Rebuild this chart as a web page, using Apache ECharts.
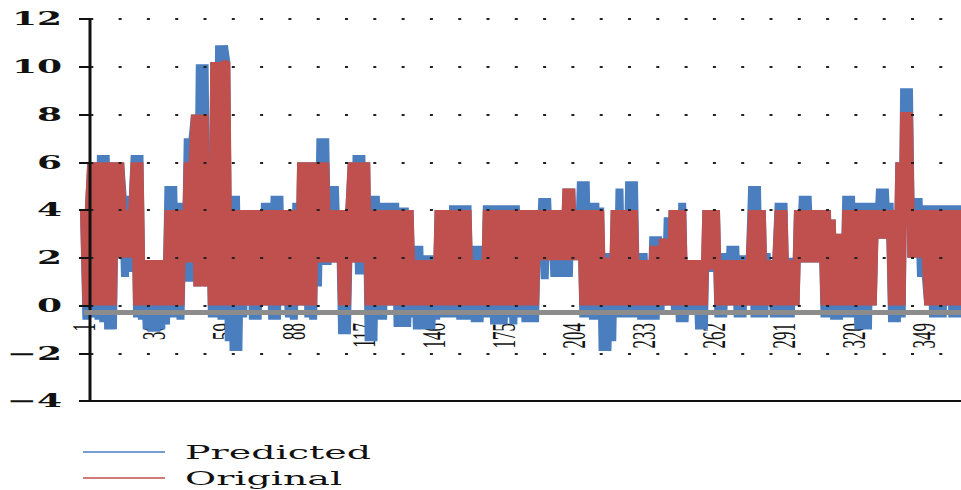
<!DOCTYPE html>
<html lang="en">
<head>
  <meta charset="UTF-8">
  <title>Predicted vs Original</title>
  <style>
    html, body {
      margin: 0;
      padding: 0;
      overflow: hidden;
      background: #fff;
    }

    /* the source figure is stretched about 2x horizontally, text included */
    #chart {
      width: 481px;
      height: 490px;
      transform: scaleX(2);
      transform-origin: 0 0;
    }
  </style>
</head>
<body>
  <div id="chart"></div>

  <script src="https://cdn.jsdelivr.net/npm/echarts@6/dist/echarts.min.js"></script>
  <script>
    // day index 1..365 on the category axis
    const days = Array.from({ length: 365 }, (_, i) => String(i + 1))
    const tickLabels = ['1', '30', '59', '88', '117', '146', '175', '204', '233', '262', '291', '320', '349']
    const yTicks = [-4, -2, 0, 2, 4, 6, 8, 10, 12]

    const original = [
      4, 0, 4, 6, 0, 6, 0, 6, 0, 6,
      0, 6, 0, 6, 2, 6, 4, 2, 4, 2,
      4, 6, 0, 6, 0, 1.9, 0, 1.9, 0, 1.9,
      0, 1.9, 0, 1.9, 0, 4, 0, 4, 0, 4,
      0, 4, 1.8, 6, 1.8, 6, 8, 0.8, 8, 0.8,
      8, 0.8, 5.8, 0, 10.2, 0, 10.2, 0, 10.2, 10.2,
      0, 4, 0, 4, 0, 4, 0, 4, 0, 4,
      0, 4, 0, 4, 0, 4, 0, 4, 0, 4,
      0, 4, 0, 4, 1, 0, 4, 0, 4, 0,
      6, 0, 6, 0, 6, 0, 6, 1.8, 6, 1.8,
      6, 1.8, 4, 1.8, 4, 1.8, 4, 0, 4, 0,
      4, 6, 1.8, 6, 1.8, 6, 1.8, 6, 0, 4,
      0, 4, 0, 4, 0, 4, 0, 4, 0, 4,
      0, 4, 0, 4, 0, 4, 0, 1.9, 0, 1.9,
      0, 1.9, 0, 1.9, 0, 1.9, 0, 4, 0, 4,
      0, 4, 0, 4, 0, 4, 0, 4, 0, 4,
      0, 1.9, 0, 1.9, 0, 1.9, 0, 4, 0, 4,
      0, 4, 0, 4, 0, 4, 0, 4, 0, 4,
      2.5, 0, 4, 0, 4, 0, 4, 0, 4, 1.9,
      4, 1.9, 4, 1.9, 4, 1.9, 4, 1.9, 4, 1.9,
      4.9, 1.9, 4.9, 1.9, 4, 1.9, 4, 0, 4, 0,
      4, 0, 4, 0, 4, 0, 2, 0, 2, 0,
      4, 0, 4, 0, 4, 0, 4, 0, 4, 0,
      1.9, 0, 1.9, 0, 1.9, 0, 2.5, 0, 2.5, 0,
      2.8, 0, 2.8, 0, 4, 0, 4, 0, 4, 0,
      1.9, 0, 1.9, 0, 1.9, 0, 1.9, 0, 4, 1.5,
      4, 1.5, 4, 0, 1.9, 0, 1.9, 0, 1.9, 0,
      1.9, 0, 1.9, 0, 1.9, 0, 1.9, 4, 0, 4,
      0, 4, 0, 1.9, 0, 1.9, 0, 1.9, 4, 0,
      4, 0, 1.9, 0, 1.9, 0, 4, 1.8, 4, 1.8,
      4, 1.8, 4, 1.8, 4, 1.8, 4, 0, 4, 0,
      3.6, 0, 3, 0, 3, 0, 4, 0, 4, 0,
      4, 0, 4, 0, 4, 0, 4, 0, 4, 2.8,
      4, 2.8, 4, 2.8, 4, 0, 4, 0, 6, 0,
      8.1, 4, 8.1, 2, 4, 2, 4, 2, 4, 2,
      0, 4, 0, 4, 0, 4, 0, 4, 0, 4,
      0, 4, 0, 4, 0
    ]

    const predicted = [
      4, -0.6, 4, 6, -0.5, 6, -0.6, 6.3, -0.7, 6.3,
      -1, 6, -1, 6, 2, 6, 4.6, 1.2, 4.6, 1.4,
      4, 6.3, -0.5, 6.3, -0.6, 1.9, -1, 1.9, -1.1, 1.9,
      -1.1, 1.9, -1, 1.9, -0.8, 5, -0.5, 5, -0.5, 4.3,
      -0.6, 4.3, 1, 7, 1, 7, 8, 0.8, 10.1, 1,
      10.1, 0.8, 6.3, -0.5, 10.2, -0.5, 10.9, -0.6, 10.9, 10.2,
      -1.5, 4.6, -1.9, 4.6, -1.9, 4, -0.5, 4, 0, 4,
      -0.6, 4, -0.6, 4, 0, 4.3, 0, 4.3, -0.6, 4.6,
      -0.6, 4.6, 0, 4, 1, -0.5, 4, -0.6, 4.3, 0,
      6, 0, 6, -0.5, 6, -0.6, 6, 0.8, 7, 1.7,
      7, 1.7, 5, 1.8, 5, 1.8, 4, -1.2, 4, -1.2,
      4, 6, 1.8, 6.3, 1.3, 6.3, 1.3, 6, -1.5, 4.6,
      -1.5, 4.6, -0.6, 4.3, -0.6, 4.3, 0, 4.3, 0, 4.3,
      -0.9, 4.1, -0.9, 4.1, -0.9, 4, -0.5, 2.5, -1, 2.5,
      -1, 2.1, -1, 2.1, -1, 2.1, -0.6, 4, -0.5, 4,
      -0.5, 4, -0.5, 4.2, -0.5, 4.2, -0.6, 4.2, -0.6, 4.2,
      -0.6, 2.5, -0.7, 2.5, -0.7, 2.5, -0.5, 4.2, -0.5, 4.2,
      -0.8, 4.2, -0.8, 4.2, -0.8, 4.2, -0.5, 4.2, -0.8, 4.2,
      2.5, -0.5, 4, -0.7, 4, -0.7, 4, -0.7, 4, 1.9,
      4.5, 1.1, 4.5, 1.9, 4, 1.2, 4, 1.2, 4, 1.2,
      4.9, 1.2, 4.9, 1.9, 4, 1.9, 5.2, -0.5, 5.2, -0.5,
      4.3, -0.6, 4.3, -0.6, 4.1, -1.9, 2.2, -1.9, 2.2, -1.5,
      4, -0.5, 4.9, -0.5, 4, -0.5, 5.2, -0.5, 5.2, -0.5,
      2.2, -0.6, 2.2, -0.6, 1.9, -0.6, 2.9, -0.6, 2.9, -0.3,
      2.8, 0, 3.7, 0, 4, -0.3, 4, -0.7, 4.3, -0.7,
      1.9, -0.3, 1.9, -0.3, 1.9, -1, 1.9, -1, 4, 1.4,
      4, 1.4, 4, -0.5, 2.2, -0.5, 2.2, 0, 2.5, 0,
      2.5, -0.5, 2.1, -0.5, 2.1, 0, 1.9, 5, -0.5, 5,
      -0.5, 4, -0.5, 2.2, 0, 1.9, -0.5, 1.9, 4.3, -0.5,
      4.3, -0.5, 2, -0.5, 2, 0, 4, 1.8, 4.6, 1.8,
      4.6, 1.8, 4, 1.8, 4, 1.8, 4, -0.5, 4, -0.5,
      3.6, -0.6, 3, -0.6, 3, -0.5, 4.6, -0.5, 4.6, -0.5,
      4.3, -1, 4.3, -1, 4.3, -1, 4.3, 0, 4.3, 2.8,
      4.9, 2.8, 4.9, 2.8, 4.3, -0.7, 4, -0.7, 6, -0.5,
      9.1, 4, 9.1, 2, 4.5, 2, 4.5, 1.2, 4.2, 1.2,
      0, 4.2, -0.5, 4.2, -0.5, 4.2, -0.5, 4.2, 0, 4.2,
      -0.5, 4.2, -0.5, 4.2, 0
    ]

    const BLUE = '#4a7ebf'
    const RED = '#c0504d'

    const chart = echarts.init(document.getElementById('chart'), null, { renderer: 'svg' })

    chart.setOption({
      animation: false,
      backgroundColor: '#fff',
      grid: { left: 42, right: 0, top: 19, bottom: 89 },
      legend: {
        data: [
          { name: 'Predicted', icon: 'rect' },
          { name: 'Original', icon: 'rect' }
        ],
        orient: 'vertical',
        left: 41.5,
        top: 441,
        padding: 0,
        itemWidth: 41,
        itemHeight: 1.5,
        itemGap: 4,
        selectedMode: false,
        textStyle: {
          fontFamily: 'DejaVu Serif',
          fontSize: 19,
          color: '#111',
          lineHeight: 22,
          padding: [0, 0, 0, 5]
        }
      },
      xAxis: {
        type: 'category',
        data: days,
        boundaryGap: false,
        // moved up from the bottom edge so the labels hang under the zero level
        offset: -96,
        axisLine: { show: false, onZero: false },
        axisTick: { show: false },
        splitLine: { show: false },
        axisLabel: {
          interval: (idx, val) => tickLabels.includes(val),
          rotate: 90,
          margin: 18,
          fontFamily: 'Liberation Serif',
          fontSize: 17,
          color: '#111'
        }
      },
      yAxis: {
        type: 'value',
        min: yTicks[0],
        max: yTicks[yTicks.length - 1],
        interval: 2,
        offset: -3,
        z: 3,
        axisLine: { show: true, lineStyle: { color: '#111', width: 1.5 } },
        axisTick: { show: true, length: 5.5, lineStyle: { color: '#111', width: 2 } },
        axisLabel: {
          margin: 14,
          fontFamily: 'DejaVu Serif',
          fontWeight: 'bold',
          fontSize: 18,
          color: '#111',
          formatter: v => v < 0 ? '\u2212' + Math.abs(v) : String(v)
        },
        splitLine: {
          show: true,
          lineStyle: { color: '#222', width: 2, type: [1.5, 12.65], dashOffset: 11 }
        }
      },
      series: [
        {
          // base lines: grey category axis and black bottom frame
          name: 'axes',
          type: 'line',
          data: [],
          z: 1,
          silent: true,
          markLine: {
            silent: true,
            symbol: ['none', 'none'],
            label: { show: false },
            animation: false,
            data: [
              { yAxis: -0.3, lineStyle: { color: '#8c8c8c', width: 5, type: 'solid' } },
              { yAxis: -4, lineStyle: { color: '#111', width: 2, type: 'solid' } }
            ]
          }
        },
        {
          name: 'Predicted',
          type: 'line',
          data: predicted,
          color: BLUE,
          symbol: 'none',
          z: 2,
          lineStyle: { width: 4, color: BLUE, join: 'bevel' }
        },
        {
          name: 'Original',
          type: 'line',
          data: original,
          color: RED,
          symbol: 'none',
          z: 2,
          lineStyle: { width: 4, color: RED, join: 'bevel' }
        }
      ]
    })
  </script>
</body>
</html>
